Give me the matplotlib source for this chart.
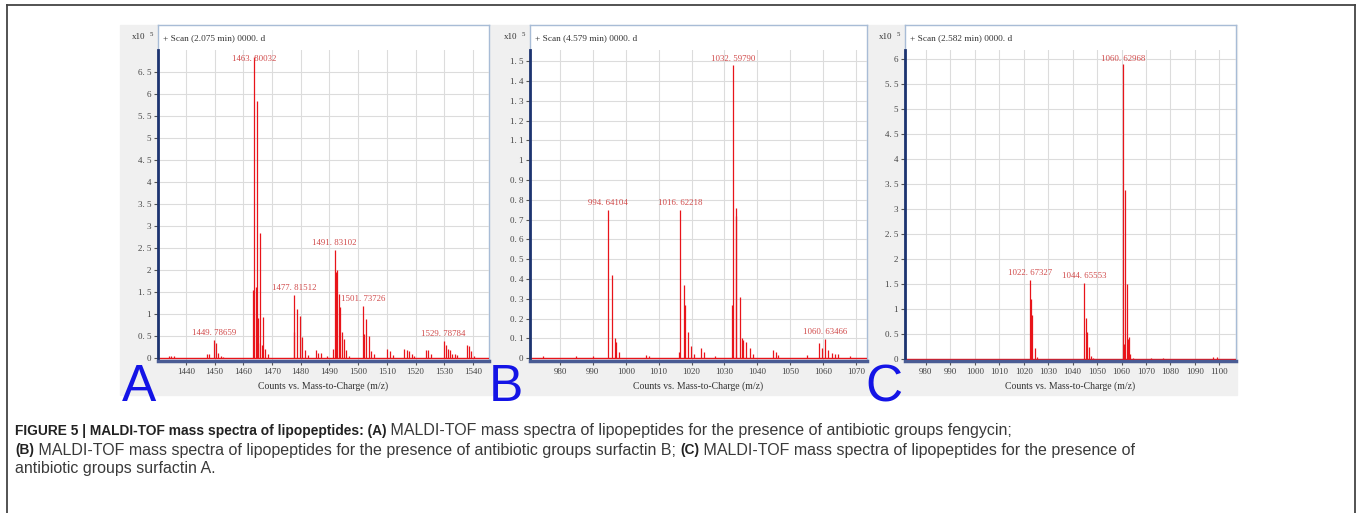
import numpy as np
import matplotlib
matplotlib.use("Agg")
import matplotlib.pyplot as plt
from matplotlib.patches import Rectangle
from matplotlib.lines import Line2D
from matplotlib.ticker import MultipleLocator, FuncFormatter

W, H = 1358, 513

# ---- data (intensity in x10^5 counts) ----
# A: fengycin
a_mz = [1434, 1435, 1436, 1447.4, 1448.2, 1449.79, 1450.5, 1451.3, 1452.1, 1453.0,
        1463.3, 1463.80, 1464.3, 1464.8, 1465.0, 1465.3, 1465.8, 1466.5, 1466.9, 1467.6, 1468.5,
        1477.6, 1477.82, 1478.6, 1479.6, 1480.5, 1481.6, 1482.5,
        1485.2, 1486.0, 1487.0, 1489.0,
        1491.4, 1491.83, 1492.3, 1492.8, 1493.3, 1493.8, 1494.4, 1495.1, 1495.7, 1497.0,
        1501.74, 1501.9, 1502.7, 1503.7, 1504.6, 1505.4,
        1510.0, 1511.0, 1512.0, 1516.0, 1517.0, 1517.8, 1518.7, 1519.6,
        1523.8, 1524.4, 1525.4, 1529.79, 1530.6, 1531.4, 1531.9, 1532.8, 1533.7, 1534.6,
        1537.8, 1538.6, 1539.5, 1540.4]
a_int = [0.05, 0.04, 0.04, 0.08, 0.08, 0.40, 0.35, 0.12, 0.05, 0.03,
         1.55, 6.85, 1.62, 5.85, 0.90, 0.35, 2.85, 0.30, 0.93, 0.20, 0.10,
         0.60, 1.42, 1.12, 0.95, 0.48, 0.17, 0.07,
         0.17, 0.12, 0.12, 0.05,
         0.20, 2.45, 1.96, 2.00, 1.45, 1.15, 0.60, 0.42, 0.18, 0.05,
         1.17, 0.55, 0.88, 0.50, 0.15, 0.08,
         0.20, 0.15, 0.07, 0.20, 0.18, 0.15, 0.10, 0.05,
         0.18, 0.17, 0.10, 0.38, 0.30, 0.20, 0.18, 0.08, 0.08, 0.06,
         0.30, 0.27, 0.15, 0.05]
a_labels = [(1463.80, 6.85, "1463. 80032"), (1449.79, 0.40, "1449. 78659"),
            (1477.82, 1.42, "1477. 81512"), (1491.83, 2.45, "1491. 83102"),
            (1501.74, 1.17, "1501. 73726"), (1529.79, 0.38, "1529. 78784")]

# B: surfactin B
b_mz = [975, 985, 990, 994.64, 995.7, 996.7, 997.0, 998.0, 1006.0, 1007.0,
        1016.3, 1016.62, 1017.6, 1017.9, 1018.8, 1019.7, 1020.7, 1022.8, 1023.8, 1027.0,
        1032.4, 1032.60, 1033.4, 1033.6, 1034.6, 1035.4, 1035.7, 1036.6, 1037.8, 1038.8,
        1044.7, 1045.6, 1046.4, 1055.0, 1058.6, 1059.6, 1060.63, 1061.6, 1062.6, 1063.6, 1064.4,
        1068.0]
b_int = [0.01, 0.01, 0.01, 0.75, 0.42, 0.10, 0.08, 0.03, 0.015, 0.01,
         0.03, 0.75, 0.37, 0.27, 0.13, 0.06, 0.02, 0.05, 0.03, 0.01,
         0.27, 1.48, 0.72, 0.76, 0.31, 0.10, 0.09, 0.08, 0.05, 0.02,
         0.04, 0.03, 0.015, 0.015, 0.075, 0.05, 0.095, 0.04, 0.025, 0.02, 0.02,
         0.01]
b_labels = [(994.64, 0.75, "994. 64104"), (1016.62, 0.75, "1016. 62218"),
            (1032.60, 1.48, "1032. 59790"), (1060.63, 0.095, "1060. 63466")]

# C: surfactin A
c_mz = [1022.67, 1023.0, 1023.6, 1024.6, 1025.5,
        1044.66, 1045.4, 1045.9, 1046.7, 1047.5, 1048.3,
        1060.63, 1061.0, 1061.6, 1062.2, 1062.6, 1063.1, 1063.6, 1064.5,
        1072.0, 1077.0, 1097.5, 1099.0]
c_int = [1.58, 1.20, 0.88, 0.22, 0.05,
         1.52, 0.82, 0.55, 0.25, 0.07, 0.03,
         5.90, 0.30, 3.38, 1.50, 0.40, 0.45, 0.10, 0.03,
         0.02, 0.03, 0.04, 0.04]
c_labels = [(1022.67, 1.58, "1022. 67327"), (1044.66, 1.52, "1044. 65553"),
            (1060.63, 5.90, "1060. 62968")]

panels = [
    dict(mz=a_mz, inten=a_int, labels=a_labels, letter="A", scan="+ Scan (2.075 min) 0000. d",
         xlim=(1430.3, 1545.6), ylim=(-0.07, 7.0), xstep=10, ystep=0.5, ytop=6.5,
         bg=(120, 490), frame=(158, 489), letter_x=122),
    dict(mz=b_mz, inten=b_int, labels=b_labels, letter="B", scan="+ Scan (4.579 min) 0000. d",
         xlim=(970.9, 1073.3), ylim=(-0.014, 1.557), xstep=10, ystep=0.1, ytop=1.5,
         bg=(490, 867), frame=(530, 867), letter_x=489),
    dict(mz=c_mz, inten=c_int, labels=c_labels, letter="C", scan="+ Scan (2.582 min) 0000. d",
         xlim=(971.5, 1106.8), ylim=(-0.04, 6.18), xstep=10, ystep=0.5, ytop=6.0,
         bg=(867, 1237), frame=(905, 1236), letter_x=865),
]


def rect(x0, y0, x1, y1):
    return [x0 / W, 1 - y1 / H, (x1 - x0) / W, (y1 - y0) / H]


def fmt(v, p):
    s = "%g" % round(v, 2)
    return s.replace(".", ". ")


serif = "Liberation Serif"
fig = plt.figure(figsize=(W / 100, H / 100), dpi=100)

for p in panels:
    x0, x1 = p["frame"]
    fig.patches.append(Rectangle((p["bg"][0] / W, 1 - 395 / H), (p["bg"][1] - p["bg"][0]) / W,
                                 370 / H, transform=fig.transFigure, color="#f0f0f0", zorder=-5))
    # white frame with scan title
    fr = fig.add_axes(rect(x0, 25, x1, 361))
    fr.set_xticks([])
    fr.set_yticks([])
    for s in fr.spines.values():
        s.set_color("#a8bcd6")
        s.set_linewidth(1)
    fr.text(5 / (x1 - x0), 1 - 13 / 336, p["scan"], transform=fr.transAxes, fontsize=6.7,
            family=serif, color="#333333", va="center")

    ax = fig.add_axes(rect(x0, 50, x1, 361))
    ax.patch.set_alpha(0)
    ax.set_xlim(*p["xlim"])
    ax.set_ylim(*p["ylim"])
    ax.xaxis.set_major_locator(MultipleLocator(p["xstep"]))
    ax.yaxis.set_major_formatter(FuncFormatter(fmt))
    ax.set_yticks(np.round(np.arange(0, p["ytop"] + p["ystep"] / 2, p["ystep"]), 2))
    ax.grid(True, color="#dcdcdc", lw=0.8)
    ax.set_axisbelow(True)
    ax.spines["top"].set_visible(False)
    ax.spines["right"].set_visible(False)
    ax.spines["left"].set_color("#1d3470")
    ax.spines["left"].set_linewidth(2)
    ax.spines["bottom"].set_color("#4a5c94")
    ax.spines["bottom"].set_linewidth(2.5)
    ax.tick_params(axis="both", direction="out", length=3, width=0.8, color="#555555",
                   labelcolor="#444444", pad=2)
    for lab in ax.get_xticklabels() + ax.get_yticklabels():
        lab.set_family(serif)
        lab.set_fontsize(6.5)

    ax.axhline(0, color="#e8141a", lw=1.0, zorder=2)
    ax.vlines(p["mz"], 0, p["inten"], color="#e8141a", lw=0.9, zorder=3)
    lo, hi = p["ylim"]
    upp = (hi - lo) / 311.0  # data units per pixel
    for mz, top, txt in p["labels"]:
        ly = min(top + 7 * upp, hi - 9 * upp)
        ax.text(mz, ly, txt, ha="center", va="center", fontsize=6.3, family=serif,
                color="#d04848", zorder=4)

    fig.text(x0 / W - 26 / W, 1 - 37 / H, "x10", fontsize=6.5, family=serif,
             color="#333333", va="center")
    fig.text(x0 / W - 8 / W, 1 - 34 / H, "5", fontsize=5, family=serif,
             color="#333333", va="center")
    fig.text((x0 + x1) / 2 / W, 1 - 386 / H, "Counts vs. Mass-to-Charge (m/z)", fontsize=7,
             family=serif, color="#333333", ha="center", va="center")
    fig.text(p["letter_x"] / W, 1 - 401 / H, p["letter"], fontsize=37, family="Liberation Sans",
             color="#1414e6", ha="left", va="baseline")

# figure border
bc = "#444444"
fig.add_artist(Line2D([7 / W, 1355 / W], [1 - 5 / H, 1 - 5 / H], color=bc, lw=1.3))
fig.add_artist(Line2D([7 / W, 7 / W], [1 - 5 / H, 0], color=bc, lw=1.3))
fig.add_artist(Line2D([1355 / W, 1355 / W], [1 - 5 / H, 0], color=bc, lw=1.3))

# caption with mixed bold runs
caption = [
    [("FIGURE 5 | MALDI-TOF mass spectra of lipopeptides: (A)", "bold"),
     (" MALDI-TOF mass spectra of lipopeptides for the presence of antibiotic groups fengycin;", "normal")],
    [("(B)", "bold"),
     (" MALDI-TOF mass spectra of lipopeptides for the presence of antibiotic groups surfactin B; ", "normal"),
     ("(C)", "bold"),
     (" MALDI-TOF mass spectra of lipopeptides for the presence of", "normal")],
    [("antibiotic groups surfactin A.", "normal")],
]
line_y = [431, 450, 468]
renderer = fig.canvas.get_renderer()
for runs, yy in zip(caption, line_y):
    x = 15
    for s, w in runs:
        t = fig.text(x / W, 1 - yy / H, s, fontsize=9.9 if w == "bold" else 11.5,
                     family="Liberation Sans", weight=w,
                     color="#222222" if w == "bold" else "#3a3a3a", va="center")
        x += t.get_window_extent(renderer).width

fig.savefig("out.png", dpi=100)
